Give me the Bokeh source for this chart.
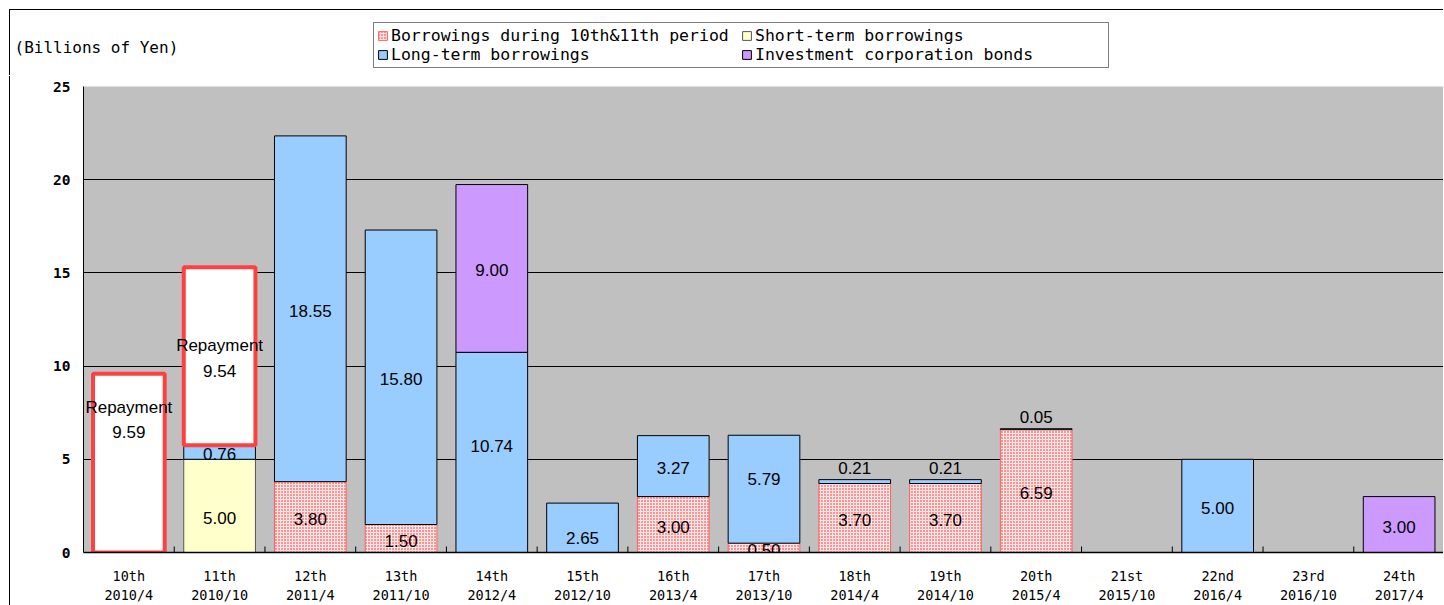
import numpy as np
from bokeh.plotting import figure
from bokeh.models import (ColumnDataSource, Legend, LegendItem, Label, Range1d,
                          FixedTicker, SingleIntervalTicker)
from bokeh.core.properties import value
from bokeh.embed import file_html
from bokeh.resources import INLINE

periods = ["10th", "11th", "12th", "13th", "14th", "15th", "16th", "17th",
           "18th", "19th", "20th", "21st", "22nd", "23rd", "24th"]
dates = ["2010/4", "2010/10", "2011/4", "2011/10", "2012/4", "2012/10", "2013/4",
         "2013/10", "2014/4", "2014/10", "2015/4", "2015/10", "2016/4", "2016/10", "2017/4"]
borrow_10_11 = [0, 0, 3.80, 1.50, 0, 0, 3.00, 0.50, 3.70, 3.70, 6.59, 0, 0, 0, 0]
short_term = [0, 5.00, 0, 0, 0, 0, 0, 0, 0, 0, 0, 0, 0, 0, 0]
long_term = [0, 0.76, 18.55, 15.80, 10.74, 2.65, 3.27, 5.79, 0.21, 0.21, 0.05, 0, 5.00, 0, 0]
corp_bonds = [0, 0, 0, 0, 9.00, 0, 0, 0, 0, 0, 0, 0, 0, 0, 3.00]
repayment = [9.59, 9.54, 0, 0, 0, 0, 0, 0, 0, 0, 0, 0, 0, 0, 0]

series_names = ["Borrowings during 10th&11th period", "Short-term borrowings",
                "Long-term borrowings", "Investment corporation bonds", "Repayment"]
y_title = "(Billions of Yen)"

MONO = "DejaVu Sans Mono"
SANS = "Liberation Sans"

n = len(periods)
xs = np.arange(n) + 0.5
BAR_W = 0.79
W = 1434
HEAD_H = 66

layers = [borrow_10_11, short_term, long_term, corp_bonds, repayment]
styles = [
    dict(fill_color="#ffe8e8", hatch_pattern="dot", hatch_color="#ff1010", hatch_scale=3,
         hatch_weight=1.8, line_color="#ff6060", line_width=1),
    dict(fill_color="#ffffcc", line_color="#555555", line_width=1),
    dict(fill_color="#99ccff", line_color="black", line_width=1),
    dict(fill_color="#cc99ff", line_color="black", line_width=1),
    dict(fill_color="white", line_color="#ff4040", line_width=4),
]

# ---------------- header (legend + unit title) ----------------
head = figure(width=W, height=HEAD_H, x_range=Range1d(0, W), y_range=Range1d(0, HEAD_H),
              output_backend="svg", toolbar_location=None, min_border=0,
              x_axis_location=None, y_axis_location=None,
              background_fill_color="white", border_fill_color="white")
head.grid.visible = False
head.outline_line_color = None
head.styles = {"position": "absolute", "left": "9px", "top": "9px",
               "border-left": "1px solid black", "border-top": "1px solid black"}

legend_r = {}
for k in range(4):
    legend_r[k] = head.vbar(x=[-1000], top=[0], bottom=[0], width=1, **styles[k])
legend_order = [0, 2, 1, 3]  # column-major layout -> rows: (0,1), (2,3)
legend_items = [LegendItem(label=series_names[k], renderers=[legend_r[k]]) for k in legend_order]

legend = Legend(items=legend_items, ncols=2, location=(363, 8),
                label_text_font=MONO, label_text_font_size="16.5px",
                label_text_color="black", glyph_width=11, glyph_height=11,
                label_height=14, label_width=350, label_standoff=3, spacing=0,
                padding=3, margin=0,
                border_line_color="black", border_line_width=1,
                background_fill_color="white", background_fill_alpha=1)
head.add_layout(legend, "center")
head.add_layout(Label(x=4, y=29, text=y_title, text_font=MONO, text_font_size="16px",
                      text_baseline="middle", text_color="black"))

# ---------------- main chart ----------------
p = figure(width=W, height=605 - 76, x_range=Range1d(0, n), y_range=Range1d(0, 25),
           output_backend="svg", toolbar_location=None,
           min_border_left=73, min_border_top=10, min_border_right=0, min_border_bottom=52,
           background_fill_color="#c0c0c0", border_fill_color="white")
p.outline_line_color = None
p.styles = {"position": "absolute", "left": "9px", "top": "76px",
            "border-left": "1px solid black"}

p.xaxis.ticker = FixedTicker(ticks=list(xs))
p.xaxis.major_label_overrides = {float(x): f"{a}\n{b}" for x, a, b in zip(xs, periods, dates)}
p.xaxis.major_tick_line_color = None
p.xaxis.major_tick_in = 0
p.xaxis.major_tick_out = 0
p.xaxis.minor_tick_line_color = None
p.xaxis.minor_tick_in = 0
p.xaxis.minor_tick_out = 0
p.xaxis.axis_line_color = "black"
p.xaxis.axis_line_width = 1.5
p.xaxis.major_label_text_font = MONO
p.xaxis.major_label_text_font_size = "13.5px"
p.xaxis.major_label_text_color = "black"
p.xaxis.major_label_standoff = 15

p.yaxis.ticker = SingleIntervalTicker(interval=5)
p.yaxis.major_tick_line_color = None
p.yaxis.major_tick_in = 0
p.yaxis.major_tick_out = 0
p.yaxis.minor_tick_line_color = None
p.yaxis.minor_tick_in = 0
p.yaxis.minor_tick_out = 0
p.yaxis.axis_line_color = "black"
p.yaxis.major_label_text_font = MONO
p.yaxis.major_label_text_font_style = "bold"
p.yaxis.major_label_text_font_size = "14.5px"
p.yaxis.major_label_text_color = "black"
p.yaxis.major_label_standoff = 13

p.xgrid.grid_line_color = None
p.ygrid.ticker = SingleIntervalTicker(interval=5)
p.ygrid.grid_line_color = "black"
p.ygrid.grid_line_width = 1

# boundary ticks between categories
bounds = np.arange(1, n)
p.scatter(x=bounds, y=np.zeros(len(bounds)), marker="dash", angle=np.pi / 2,
          size=12, line_color="black", line_width=1)

# label pixel adjustments (screen px, positive = down)
adjust = {(0, 4): -45, (1, 1): 10, (4, 2): -8, (5, 2): 8, (7, 2): -12}

bottoms = np.zeros(n)
lab_x, lab_y, lab_t, lab_off = [], [], [], []
for k, (vals, st) in enumerate(zip(layers, styles)):
    vals = np.array(vals, dtype=float)
    tops = bottoms + vals
    m = vals > 0
    src = ColumnDataSource(dict(x=xs[m], top=tops[m], bottom=bottoms[m]))
    p.vbar(x="x", top="top", bottom="bottom", width=BAR_W, source=src, **st)
    for i in np.where(m)[0]:
        v = vals[i]
        txt = f"Repayment\n{v:.2f}" if k == 4 else f"{v:.2f}"
        if v < 0.3:
            lab_x.append(xs[i]); lab_y.append(tops[i]); lab_t.append(txt); lab_off.append(-12)
        else:
            lab_x.append(xs[i]); lab_y.append(bottoms[i] + v / 2); lab_t.append(txt)
            lab_off.append(2 + adjust.get((i, k), 0))
    bottoms = tops

lsrc = ColumnDataSource(dict(x=lab_x, y=lab_y, t=lab_t, off=lab_off))
p.text(x="x", y="y", text="t", y_offset="off", source=lsrc, text_align="center",
       text_baseline="middle", text_font=value(SANS), text_font_size="17px",
       text_color="black", text_line_height=1.35)

open("out.html", "w").write(file_html([head, p], INLINE))
